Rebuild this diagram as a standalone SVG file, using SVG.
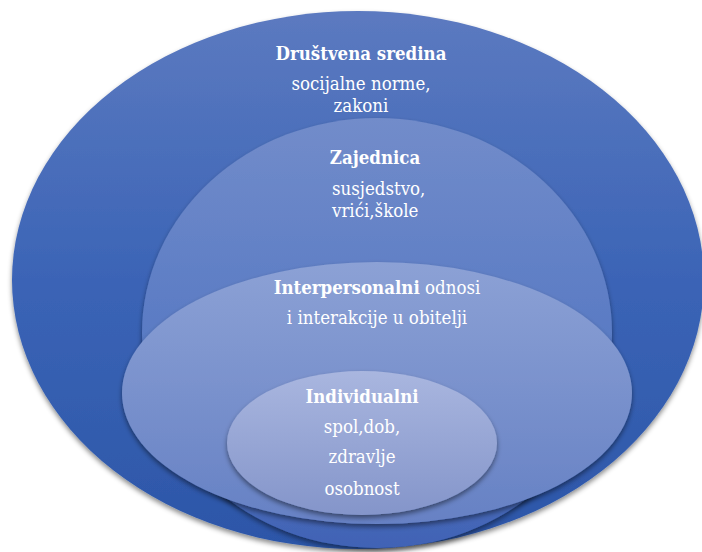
<svg xmlns="http://www.w3.org/2000/svg" width="702" height="552" viewBox="0 0 702 552">
<defs>
<linearGradient id="g1" x1="0" y1="0" x2="0" y2="1">
<stop offset="0" stop-color="#5c7ac0"/>
<stop offset="0.5" stop-color="#3b64b6"/>
<stop offset="1" stop-color="#2c56a8"/>
</linearGradient>
<linearGradient id="g2" x1="0" y1="0" x2="0" y2="1">
<stop offset="0" stop-color="#728cca"/>
<stop offset="0.5" stop-color="#5a7bc4"/>
<stop offset="1" stop-color="#4163b5"/>
</linearGradient>
<linearGradient id="g3" x1="0" y1="0" x2="0" y2="1">
<stop offset="0" stop-color="#8ca1d5"/>
<stop offset="1" stop-color="#6681c4"/>
</linearGradient>
<linearGradient id="g4" x1="0" y1="0" x2="0" y2="1">
<stop offset="0" stop-color="#a9b6df"/>
<stop offset="1" stop-color="#8495ca"/>
</linearGradient>
<filter id="sh" x="-10%" y="-10%" width="120%" height="125%">
<feDropShadow dx="0" dy="3" stdDeviation="2.5" flood-color="#000" flood-opacity="0.45"/>
</filter>
</defs>
<style>
text{font-family:'DejaVu Serif Condensed','DejaVu Serif',serif;font-size:18.5px;fill:#ffffff;text-anchor:middle}
.b{font-weight:bold}
.l{text-anchor:start}
</style>
<g id="drustvena-sredina">
<ellipse cx="358" cy="280" rx="346" ry="269" fill="url(#g1)" filter="url(#sh)"/>
<text class="b" x="361" y="60">Društvena sredina</text>
<text x="361" y="90">socijalne norme,</text>
<text x="361" y="112">zakoni</text>
</g>
<g id="zajednica">
<ellipse cx="377" cy="333" rx="235" ry="215" fill="url(#g2)" filter="url(#sh)"/>
<text class="b" x="375" y="164">Zajednica</text>
<text class="l" x="332" y="195">susjedstvo,</text>
<text class="l" x="332" y="217">vrići,škole</text>
</g>
<g id="interpersonalni">
<ellipse cx="377" cy="393" rx="255" ry="131" fill="url(#g3)" filter="url(#sh)"/>
<text x="377" y="294"><tspan class="b">Interpersonalni</tspan> odnosi</text>
<text x="377" y="324">i interakcije u obitelji</text>
</g>
<g id="individualni">
<ellipse cx="362" cy="443" rx="135" ry="72" fill="url(#g4)" filter="url(#sh)"/>
<text class="b" x="362" y="403">Individualni</text>
<text x="362" y="433">spol,dob,</text>
<text x="362" y="463">zdravlje</text>
<text x="362" y="495">osobnost</text>
</g>
<g id="connectors"/>
</svg>
